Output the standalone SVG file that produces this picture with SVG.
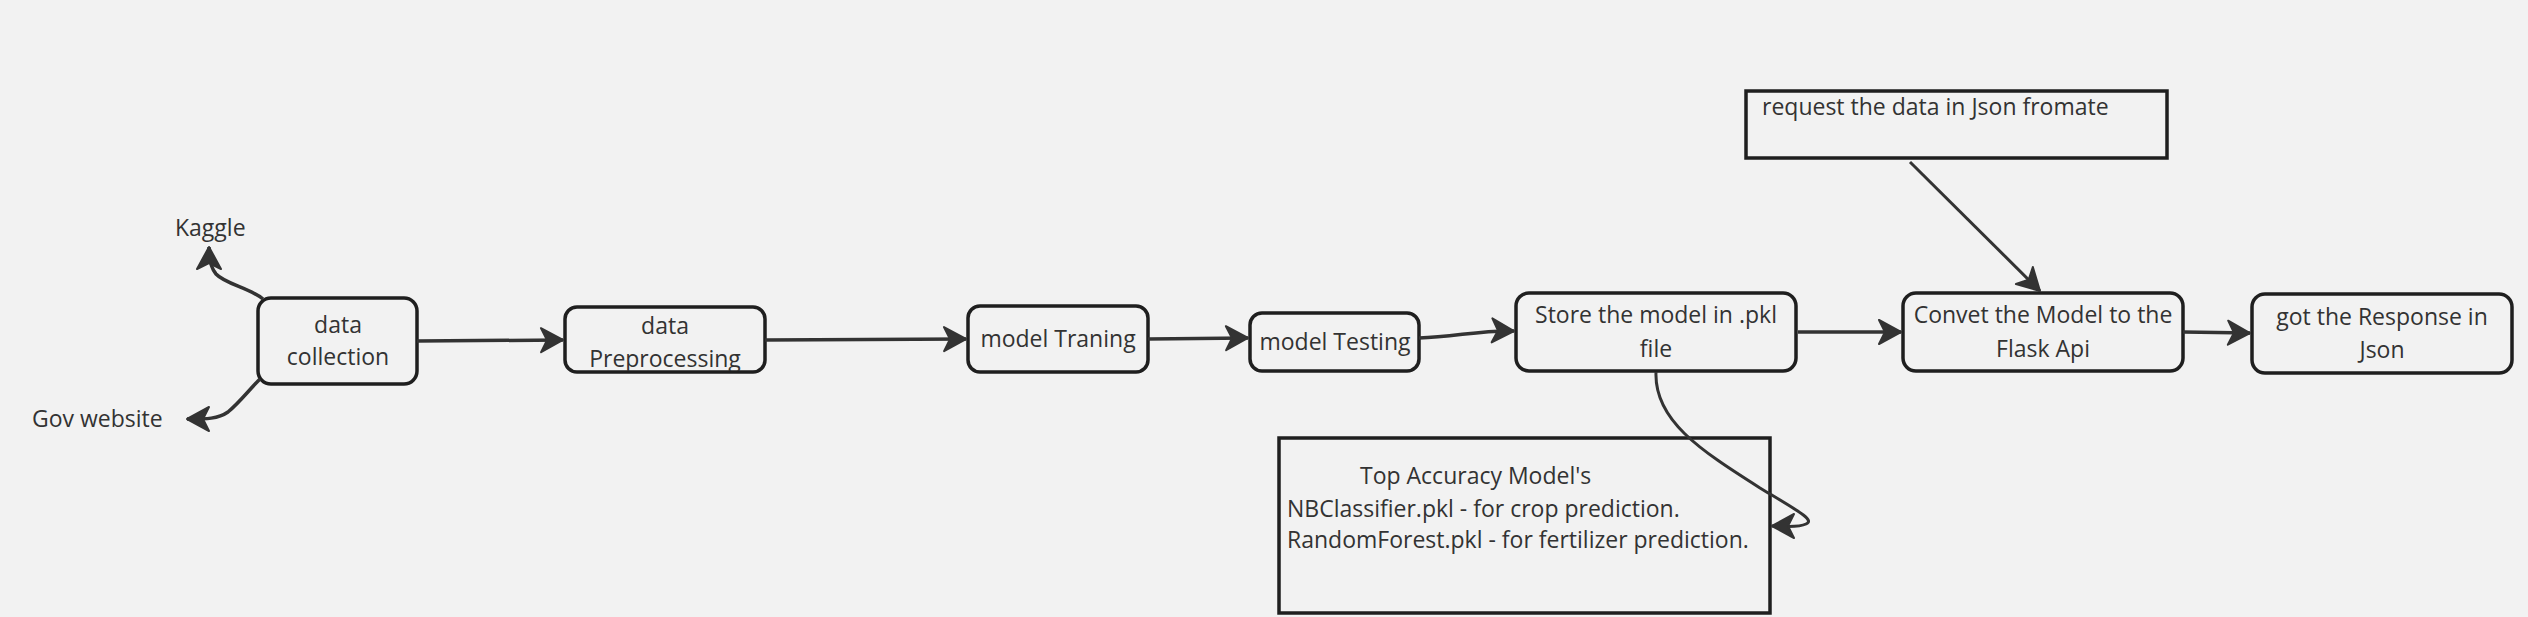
<svg xmlns="http://www.w3.org/2000/svg" width="2528" height="617" viewBox="0 0 2528 617">
<style>
.bg{fill:#f2f2f2}
.node{fill:#f2f2f2;stroke:#1f1f1f;stroke-width:3.5}
.note{fill:#f2f2f2;stroke:#1f1f1f;stroke-width:3.5}
.t{font-family:"Open Sans","Liberation Sans",sans-serif;font-size:23px;fill:#333333}
.c{text-anchor:middle}
.edge{fill:none;stroke:#333333;stroke-width:3.5}
.thin{fill:none;stroke:#333333;stroke-width:3}
</style>
<defs>
<marker id="arr" markerUnits="userSpaceOnUse" viewBox="-2 -2 28 28" markerWidth="28" markerHeight="28" refX="22" refY="12" orient="auto">
<path d="M0,0 L22,12 L0,24 L6,12 Z" fill="#333333" stroke="#333333" stroke-width="2" stroke-linejoin="round"/>
</marker>
<clipPath id="clipPre"><rect x="566" y="308" width="198" height="63"/></clipPath>
</defs>
<rect class="bg" x="0" y="0" width="2528" height="617"/>

<g id="kaggle"><text class="t" x="175" y="236">Kaggle</text></g>
<g id="gov"><text class="t" x="32" y="427">Gov website</text></g>

<g id="data-collection">
<rect class="node" x="258" y="298" width="159" height="86" rx="13"/>
<text class="t c" x="338" y="333">data</text>
<text class="t c" x="338" y="365">collection</text>
</g>

<g id="data-preprocessing">
<rect class="node" x="565" y="307" width="200" height="65" rx="12"/>
<g clip-path="url(#clipPre)">
<text class="t c" x="665" y="334">data</text>
<text class="t c" x="665" y="367">Preprocessing</text>
</g>
</g>

<g id="model-training">
<rect class="node" x="968" y="306" width="180" height="66" rx="12"/>
<text class="t c" x="1058" y="347">model Traning</text>
</g>

<g id="model-testing">
<rect class="node" x="1250" y="313" width="169" height="58" rx="12"/>
<text class="t c" x="1335" y="350">model Testing</text>
</g>

<g id="store-model">
<rect class="node" x="1516" y="293" width="280" height="78" rx="13"/>
<text class="t c" x="1656" y="323">Store the model in .pkl</text>
<text class="t c" x="1656" y="357">file</text>
</g>

<g id="flask-api">
<rect class="node" x="1903" y="293" width="280" height="78" rx="13"/>
<text class="t c" x="2043" y="323">Convet the Model to the</text>
<text class="t c" x="2043" y="357">Flask Api</text>
</g>

<g id="response-json">
<rect class="node" x="2252" y="294" width="260" height="79" rx="13"/>
<text class="t c" x="2382" y="325">got the Response in</text>
<text class="t c" x="2382" y="358">Json</text>
</g>

<g id="request-note">
<rect class="note" x="1746" y="91" width="421" height="67"/>
<text class="t" x="1762" y="115">request the data in Json fromate</text>
</g>

<g id="top-accuracy-note">
<rect class="note" x="1279" y="438" width="491" height="175"/>
<text class="t" x="1360" y="484">Top Accuracy Model's</text>
<text class="t" x="1287" y="517">NBClassifier.pkl - for crop prediction.</text>
<text class="t" x="1287" y="548">RandomForest.pkl - for fertilizer prediction.</text>
</g>

<g id="connectors">
<path class="edge" d="M263,299 C250,288 225,284 216,274 C210,267 209,258 209,247" marker-end="url(#arr)"/>
<path class="edge" d="M260,379 C248,391 240,402 228,412 C218,419 207,419 187,419" marker-end="url(#arr)"/>
<path class="edge" d="M417,341 L563,340" marker-end="url(#arr)"/>
<path class="edge" d="M765,340 L966,339" marker-end="url(#arr)"/>
<path class="edge" d="M1148,339 L1248,338" marker-end="url(#arr)"/>
<path class="edge" d="M1419,338 C1455,337 1480,330 1514,331" marker-end="url(#arr)"/>
<path class="edge" d="M1798,332 L1901,332" marker-end="url(#arr)"/>
<path class="edge" d="M2183,332 L2250,333" marker-end="url(#arr)"/>
<path class="thin" d="M1910,162 L2040,291" marker-end="url(#arr)"/>
<path class="thin" d="M1656,372 C1654,420 1700,450 1760,488 C1800,512 1815,520 1806,524 C1798,528 1785,526 1772,526" marker-end="url(#arr)"/>
</g>
</svg>
